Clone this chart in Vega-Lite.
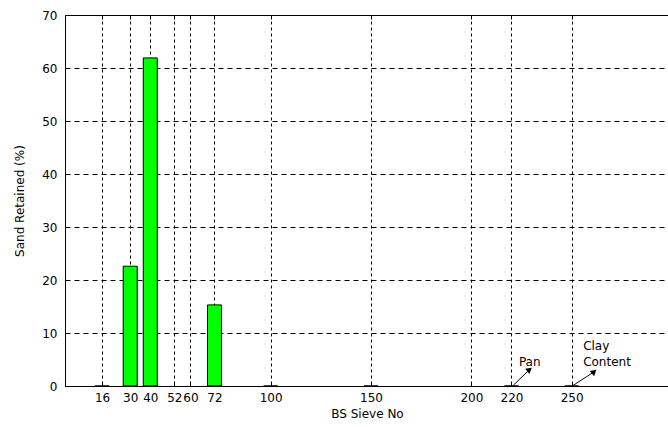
{
  "$schema": "https://vega.github.io/schema/vega-lite/v6.json",
  "autosize": {"type": "none"},
  "padding": {"left": 65, "top": 15, "right": 0, "bottom": 41},
  "width": 604,
  "height": 371,
  "background": "white",
  "config": {
    "view": {"stroke": "black", "strokeWidth": 1},
    "font": "DejaVu Sans",
    "axis": {
      "labelFont": "DejaVu Sans",
      "titleFont": "DejaVu Sans",
      "labelFontSize": 12,
      "titleFontSize": 12,
      "titleFontWeight": "normal",
      "labelColor": "black",
      "titleColor": "black",
      "tickColor": "black",
      "domain": false,
      "gridColor": "black",
      "gridOpacity": 1,
      "gridWidth": 1
    }
  },
  "resolve": {"axis": {"x": "independent", "y": "independent"}},
  "datasets": {
    "sieve": [
      {"sieve": 16, "retained": 0},
      {"sieve": 30, "retained": 22.6},
      {"sieve": 40, "retained": 61.9},
      {"sieve": 72, "retained": 15.3},
      {"sieve": 100, "retained": 0},
      {"sieve": 150, "retained": 0},
      {"sieve": 220, "retained": 0},
      {"sieve": 250, "retained": 0}
    ],
    "notes": [
      {"label": "Pan", "tx": 223.7, "ty": 4.5, "x0": 220.9, "y0": 0.13, "x1": 229.0, "y1": 3.1},
      {"label": "Clay", "tx": 255.7, "ty": 7.5, "x0": 250.7, "y0": 0.1, "x1": 261.2, "y1": 2.7},
      {"label": "Content", "tx": 255.7, "ty": 4.5}
    ]
  },
  "layer": [
    {
      "data": {"name": "sieve"},
      "mark": {"type": "bar", "size": 14, "fill": "#00ff00", "stroke": "black", "strokeWidth": 1},
      "encoding": {
        "x": {
          "field": "sieve",
          "type": "quantitative",
          "scale": {"domain": [0, 296], "nice": false, "zero": false},
          "axis": {
            "orient": "bottom",
            "title": "BS Sieve No",
            "values": [16, 30, 40, 52, 60, 72, 100, 150, 200, 220, 250],
            "tickSize": -4,
            "labelPadding": 10,
            "titlePadding": 5,
            "grid": true,
            "gridDash": [3, 3],
            "labelFlush": false,
            "labelOverlap": false
          }
        },
        "y": {
          "field": "retained",
          "type": "quantitative",
          "scale": {"domain": [0, 70], "nice": false},
          "axis": {
            "orient": "left",
            "title": "Sand Retained (%)",
            "values": [0, 10, 20, 30, 40, 50, 60, 70],
            "tickSize": -4,
            "labelPadding": 12,
            "titlePadding": 15,
            "grid": true,
            "gridDash": [5, 4],
            "labelFlush": false
          }
        }
      }
    },
    {
      "data": {"name": "sieve"},
      "mark": {"type": "tick", "opacity": 0},
      "encoding": {
        "x": {
          "field": "sieve",
          "type": "quantitative",
          "axis": {
            "orient": "top",
            "title": null,
            "labels": false,
            "grid": false,
            "values": [16, 30, 40, 52, 60, 72, 100, 150, 200, 220, 250],
            "tickSize": -4
          }
        },
        "y": {"field": "retained", "type": "quantitative", "axis": null}
      }
    },
    {
      "data": {"name": "notes"},
      "transform": [{"filter": "datum.x0 != null"}],
      "mark": {"type": "rule", "color": "black", "strokeWidth": 1},
      "encoding": {
        "x": {"field": "x0", "type": "quantitative", "axis": null},
        "y": {"field": "y0", "type": "quantitative", "axis": null},
        "x2": {"field": "x1"},
        "y2": {"field": "y1"}
      }
    },
    {
      "data": {"name": "notes"},
      "transform": [{"filter": "datum.x0 != null"}],
      "mark": {"type": "point", "shape": "triangle-up", "filled": true, "color": "black", "size": 45, "angle": 50, "opacity": 1},
      "encoding": {
        "x": {"field": "x1", "type": "quantitative", "axis": null},
        "y": {"field": "y1", "type": "quantitative", "axis": null}
      }
    },
    {
      "data": {"name": "notes"},
      "mark": {"type": "text", "align": "left", "baseline": "middle", "fontSize": 12, "font": "DejaVu Sans", "color": "black"},
      "encoding": {
        "x": {"field": "tx", "type": "quantitative", "axis": null},
        "y": {"field": "ty", "type": "quantitative", "axis": null},
        "text": {"field": "label"}
      }
    }
  ]
}
